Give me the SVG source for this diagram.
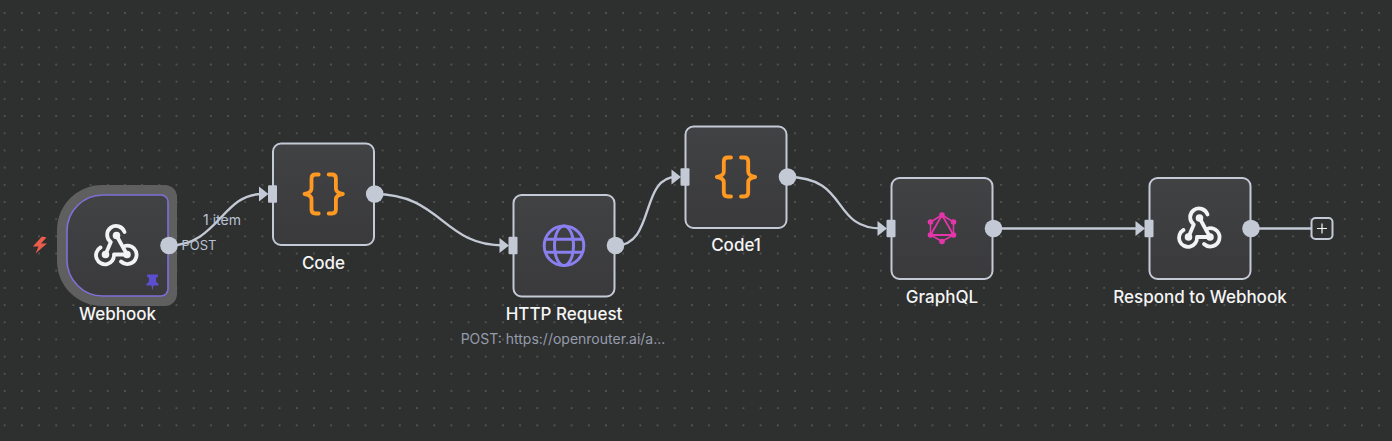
<svg xmlns="http://www.w3.org/2000/svg" xmlns:xlink="http://www.w3.org/1999/xlink" width="1392" height="441" viewBox="0 0 1392 441">
<style>
.box{fill:url(#nodeFill);stroke:#c3c9d5;stroke-width:2}
.out{fill:#c3c9d5}
.port{fill:#c3c9d5}
.wire{fill:none;stroke:#c3c9d5;stroke-width:2.400}
.lbl{font-family:Inter,"Liberation Sans",sans-serif;font-size:17px;font-weight:500;fill:#f5f5f5;text-anchor:middle}
.sub{font-family:Inter,"Liberation Sans",sans-serif;font-size:14px;fill:#959cab;text-anchor:middle}
.edge{font-family:Inter,"Liberation Sans",sans-serif;font-size:14px;fill:#b9c2d3;text-anchor:middle}
.brace{fill:none;stroke:#ff9922;stroke-width:3.800;stroke-linecap:round;stroke-linejoin:round}
.hook{fill:none;stroke:#f2f3f5;stroke-width:3.800;stroke-linecap:round;stroke-linejoin:round}
.hookdot{fill:#f2f3f5}
</style>
<defs>
<pattern id="grid" width="17.18" height="17.18" patternUnits="userSpaceOnUse" x="-3.89" y="4.41">
<circle cx="8.59" cy="8.59" r="0.75" fill="#808080"/>
</pattern>
<linearGradient id="nodeFill" x1="0" y1="0" x2="0" y2="1">
<stop offset="0" stop-color="#414244"/><stop offset="1" stop-color="#3a3a3c"/>
</linearGradient>
<g id="webhookIcon">
<path class="hook" d="M7.500 -13A8.900 8.900 0 1 0 -6.200 -3L-11.500 9.500"/>
<path class="hook" d="M-0.500 -9.500L10 9.500"/>
<path class="hook" d="M-16.500 2.500A9 9 0 1 0 -3 9.500H10"/>
<path class="hook" d="M8.500 0.800A9.200 9.200 0 1 1 4 16.500"/>
<circle class="hookdot" cx="-11.500" cy="9.500" r="3.800"/>
<circle class="hookdot" cx="10" cy="9.500" r="3.800"/>
<circle class="hookdot" cx="-0.500" cy="-9.500" r="3.800"/>
</g>
<g id="braces">
<path class="brace" d="M-5 -19.500h-3.200q-4 0-4 4v10q0 4.500-7 5.500q7 1 7 5.500v10q0 4 4 4h3.200"/>
<path class="brace" d="M5 -19.500h3.200q4 0 4 4v10q0 4.500 7 5.500q-7 1-7 5.500v10q0 4-4 4h-3.200"/>
</g>
<g id="inPort">
<path class="port" d="M-9 -7.500L0.500 0L-9 7.500Z"/>
<rect class="port" x="0" y="-8.700" width="9" height="17.400" rx="1"/>
</g>
</defs>
<rect width="1392" height="441" fill="#2e2f2f"/>
<rect width="1392" height="441" fill="url(#grid)"/>

<g id="connectors">
<path class="wire" d="M169 245.500C218 245.500 222 194 262 194"/>
<path class="wire" d="M374 194C442 194 442 245.500 504 245.500"/>
<path class="wire" d="M616 245.500C655 245.500 640 177 676 177"/>
<path class="wire" d="M787 177C850 177 830 228.500 882 228.500"/>
<path class="wire" d="M993 228.500H1140"/>
<path class="wire" d="M1251 228.500H1311"/>
<text class="edge" x="222" y="225">1 item</text>
<text class="edge" x="199" y="250" style="font-size:13px">POST</text>
</g>

<g id="node-webhook">
<path d="M102 185H165A12 12 0 0 1 177 197V294A12 12 0 0 1 165 306H102A45 45 0 0 1 57 261V230A45 45 0 0 1 102 185Z" fill="#5f5f5f"/>
<path d="M103 195H161A7 7 0 0 1 168 202V289A7 7 0 0 1 161 296H103A36 36 0 0 1 67 260V231A36 36 0 0 1 103 195Z" fill="url(#nodeFill)" stroke="#7e70d8" stroke-width="1.600"/>
<use href="#webhookIcon" transform="translate(117 245)"/>
<circle class="out" cx="169" cy="245.500" r="8.800"/>
<path d="M147 274.500h11v2l-2 1.500v3.500l2.500 2.500v1.500h-5l-.8 4.500h-.4l-.8-4.500h-5v-1.500l2.500-2.500v-3.500l-2-1.500Z" fill="#5b4fcf"/>
<path d="M42 236.500L32.800 246.500H38.500L35.500 253.500L47 243.500H41L46.500 237.500Z" fill="#ea5c4b"/>
<text class="lbl" x="117.500" y="320">Webhook</text>
</g>

<g id="node-code">
<rect class="box" x="273" y="143.500" width="101" height="101.500" rx="8"/>
<use href="#braces" transform="translate(323.700 194)"/>
<use href="#inPort" transform="translate(268 194)"/>
<circle class="out" cx="374.700" cy="194" r="8.800"/>
<text class="lbl" x="323.500" y="269">Code</text>
</g>

<g id="node-http">
<rect class="box" x="513.500" y="195" width="101" height="101.500" rx="8"/>
<g fill="none" stroke="#8a7fee" stroke-width="3">
<circle cx="564" cy="245.700" r="19.800"/>
<ellipse cx="564" cy="245.700" rx="9.500" ry="19.800"/>
<path d="M546 239.200H582M546 252.200H582"/>
</g>
<use href="#inPort" transform="translate(508.500 245.500)"/>
<circle class="out" cx="615.500" cy="245.500" r="8.800"/>
<text class="lbl" x="564" y="320">HTTP Request</text>
<text class="sub" x="563" y="344">POST: https://openrouter.ai/a...</text>
</g>

<g id="node-code1">
<rect class="box" x="685.500" y="126.500" width="101" height="101.500" rx="8"/>
<use href="#braces" transform="translate(736 177)"/>
<use href="#inPort" transform="translate(680.500 177)"/>
<circle class="out" cx="787.500" cy="177" r="8.800"/>
<text class="lbl" x="736" y="251">Code1</text>
</g>

<g id="node-graphql">
<rect class="box" x="891.500" y="178" width="101" height="101" rx="8"/>
<g fill="none" stroke="#e535ab" stroke-width="1.500">
<path d="M942 215L953.500 222V235L942 241.500L930.500 235V222Z"/>
<path d="M942 215L953.500 235H930.500Z" stroke-width="1.800"/>
</g>
<g fill="#e535ab">
<circle cx="942" cy="215" r="2.800"/><circle cx="953.500" cy="222" r="2.800"/><circle cx="953.500" cy="235" r="2.800"/>
<circle cx="942" cy="241.500" r="2.800"/><circle cx="930.500" cy="235" r="2.800"/><circle cx="930.500" cy="222" r="2.800"/>
</g>
<use href="#inPort" transform="translate(886.500 228.500)"/>
<circle class="out" cx="993.500" cy="228.500" r="8.800"/>
<text class="lbl" x="942" y="303">GraphQL</text>
</g>

<g id="node-respond">
<rect class="box" x="1149.500" y="178" width="101" height="101" rx="8"/>
<use href="#webhookIcon" transform="translate(1200 227.500)"/>
<use href="#inPort" transform="translate(1144.500 228.500)"/>
<circle class="out" cx="1251" cy="228.500" r="8.800"/>
<text class="lbl" x="1200" y="303">Respond to Webhook</text>
</g>

<g id="node-add">
<rect x="1311.500" y="218" width="21" height="21" rx="4" fill="#2e2f2f" stroke="#c3c9d5" stroke-width="2"/>
<path d="M1322 223.500V233.500M1317 228.500H1327" stroke="#f5f5f5" stroke-width="1.200"/>
</g>
</svg>
